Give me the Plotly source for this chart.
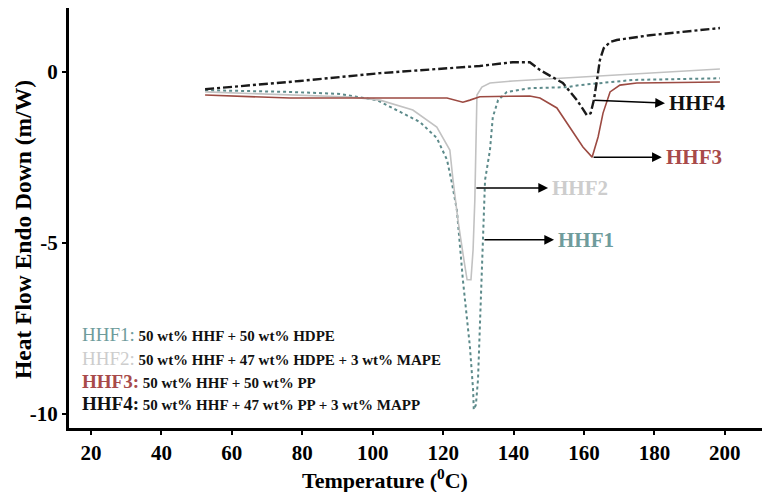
import plotly.graph_objects as go

# ---- data ----
hhf1_x = [52.4, 76.5, 90.7, 101.2, 113.4, 118.2, 121.1, 122.5, 123.9, 125.6, 127.6, 128.5, 128.7,
          129.3, 129.9, 130.4, 131.0, 131.3, 131.9, 133.3, 134.1, 135.6, 138.1, 144.6, 155.2, 158.8, 173.9, 198.6]
hhf1_y = [-0.53, -0.58, -0.64, -0.82, -1.46, -1.93, -2.57, -3.25, -4.04, -6.08, -8.04, -9.3, -9.88,
          -9.74, -9.0, -7.54, -6.08, -4.62, -3.16, -2.28, -1.32, -0.82, -0.58, -0.47, -0.44, -0.38, -0.23, -0.18]

hhf2_x = [52.4, 76.5, 93.5, 102.1, 111.4, 118.2, 121.9, 122.8, 124.2, 125.9, 126.8, 127.9, 128.5,
          129.0, 129.3, 129.6, 131.0, 133.3, 139.8, 144.6, 167.4, 198.6]
hhf2_y = [-0.58, -0.67, -0.73, -0.82, -1.11, -1.61, -2.28, -3.16, -4.33, -5.50, -6.08, -6.08, -5.2,
          -3.74, -1.70, -0.67, -0.44, -0.32, -0.26, -0.23, -0.09, 0.09]

hhf3_x = [52.4, 76.5, 121.1, 123.4, 125.6, 127.6, 130.4, 144.6, 147.5, 152.3, 156.0, 159.7, 162.3,
          164.0, 165.4, 167.4, 170.2, 175.0, 198.6]
hhf3_y = [-0.67, -0.76, -0.76, -0.82, -0.88, -0.82, -0.72, -0.70, -0.76, -1.05, -1.61, -2.19, -2.49,
          -1.90, -1.20, -0.58, -0.38, -0.32, -0.29]

hhf4_x = [52.4, 79.3, 102.1, 121.1, 130.4, 139.8, 144.6, 147.5, 154.0, 158.0, 159.7, 160.8, 161.9,
          162.8, 163.7, 164.5, 165.6, 167.4, 169.3, 178.7, 198.6]
hhf4_y = [-0.50, -0.26, -0.03, 0.12, 0.18, 0.29, 0.29, 0.06, -0.32, -0.82, -1.11, -1.26, -1.20,
          -0.82, -0.23, 0.35, 0.70, 0.88, 0.94, 1.08, 1.29]

x_ticks = [20, 40, 60, 80, 100, 120, 140, 160, 180, 200]
y_ticks = [0, -5, -10]
y_tick_text = ["0", "-5", "-10"]

labels = ["HHF1", "HHF2", "HHF3", "HHF4"]
label_colors = ["#6f9c9c", "#cdcdcd", "#a84a4a", "#111111"]
label_bold = [False, False, True, True]
descriptions = ["50 wt% HHF + 50 wt% HDPE",
                "50 wt% HHF + 47 wt% HDPE + 3 wt% MAPE",
                "50 wt% HHF + 50 wt% PP",
                "50 wt% HHF + 47 wt% PP + 3 wt% MAPP"]

# arrow tails (on curves), arrow heads
arrow_tail_x = [131.3, 129.0, 162.3, 162.5]
arrow_tail_y = [-4.91, -3.39, -2.49, -0.82]
arrow_head_x = [151.5, 149.8, 182.1, 183.0]
arrow_head_y = [-4.91, -3.39, -2.49, -0.91]

FONT = "Liberation Serif, Times New Roman, serif"

# page has an 8px body margin; the figure is shrunk so that it fits the window
BOTTOM = 428
PW, PH = 696, BOTTOM - 8  # plot area size in px


def px(xp):
    return (xp - 69) / PW


def py(yp):
    return (BOTTOM - yp) / PH


fig = go.Figure()
fig.add_trace(go.Scatter(x=hhf1_x, y=hhf1_y, mode="lines",
                         line=dict(color="#5c8a8a", width=2, dash="dot"), showlegend=False))
fig.add_trace(go.Scatter(x=hhf2_x, y=hhf2_y, mode="lines",
                         line=dict(color="#c2c2c2", width=1.6), showlegend=False))
fig.add_trace(go.Scatter(x=hhf3_x, y=hhf3_y, mode="lines",
                         line=dict(color="#9c4a42", width=1.6), showlegend=False))
fig.add_trace(go.Scatter(x=hhf4_x, y=hhf4_y, mode="lines",
                         line=dict(color="#1a1a1a", width=2.4, dash="dashdot"), showlegend=False))

annotations = []
for i in range(4):
    annotations.append(dict(x=arrow_head_x[i], y=arrow_head_y[i], ax=arrow_tail_x[i], ay=arrow_tail_y[i],
                            xref="x", yref="y", axref="x", ayref="y", text="", showarrow=True,
                            arrowhead=2, arrowsize=1.3, arrowwidth=1.5, arrowcolor="black"))
    annotations.append(dict(x=arrow_head_x[i] + 0.6, y=arrow_head_y[i], xref="x", yref="y",
                            text="<b>%s</b>" % labels[i], showarrow=False, xanchor="left",
                            yanchor="middle",
                            font=dict(family=FONT, size=21, color=label_colors[i])))

# legend-like text block
legend_py = [334, 358, 381, 403]
for i in range(4):
    lab = "%s:" % labels[i]
    if label_bold[i]:
        lab = "<b>%s</b>" % lab
    annotations.append(dict(x=px(80), y=py(legend_py[i]), xref="paper", yref="paper",
                            xanchor="left", yanchor="middle", showarrow=False,
                            text="<span style='font-size:19px;color:%s'>%s</span> <b>%s</b>"
                                 % (label_colors[i], lab, descriptions[i]),
                            font=dict(family=FONT, size=15, color="#111111")))

annotations.append(dict(x=px(23), y=py(230), xref="paper", yref="paper",
                        text="<b>Heat Flow Endo Down (m/W)</b>", textangle=-90, showarrow=False,
                        xanchor="center", yanchor="middle",
                        font=dict(family=FONT, size=23.5, color="black")))
annotations.append(dict(x=px(385), y=py(479), xref="paper", yref="paper",
                        text="<b>Temperature (<sup>0</sup>C)</b>", showarrow=False,
                        xanchor="center", yanchor="middle",
                        font=dict(family=FONT, size=22, color="black")))

fig.update_layout(
    width=762, height=484,
    margin=dict(l=61, r=5, t=0, b=484 - (BOTTOM - 8)),
    paper_bgcolor="white", plot_bgcolor="white",
    annotations=annotations,
    showlegend=False,
)
fig.update_xaxes(range=[13.75, 211.4], tickvals=x_ticks, ticktext=["<b>%d</b>" % v for v in x_ticks],
                 showgrid=False, zeroline=False, showline=True, linecolor="black", linewidth=3,
                 ticks="outside", ticklen=4, tickwidth=2, tickcolor="black",
                 tickfont=dict(family=FONT, size=21, color="black"))
fig.update_yaxes(range=[-10.42, 1.877], tickvals=y_ticks, ticktext=["<b>%s</b>" % t for t in y_tick_text],
                 showgrid=False, zeroline=False, showline=True, linecolor="black", linewidth=3,
                 ticks="outside", ticklen=4, tickwidth=2, tickcolor="black",
                 tickfont=dict(family=FONT, size=21, color="black"))

fig.write_html("out.html")
